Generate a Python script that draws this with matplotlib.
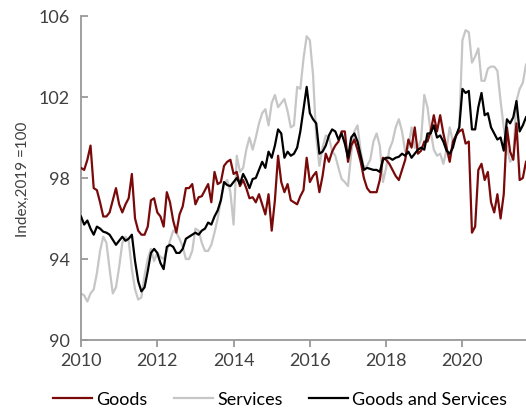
import numpy as np
import matplotlib
matplotlib.use("Agg")
import matplotlib.pyplot as plt

# monthly index values, Jan 2010 - Sep 2021 (2019 = 100)
start_year = 2010
goods = [
    98.5, 98.4, 98.9, 99.6, 97.5, 97.4, 96.8, 96.1, 96.1, 96.3, 96.9, 97.5,
    96.7, 96.3, 96.7, 97.0, 98.2, 96.0, 95.4, 95.2, 95.2, 95.6, 96.9, 97.0,
    96.3, 96.1, 95.6, 97.3, 96.8, 95.9, 95.3, 96.2, 96.6, 97.5, 97.5, 97.7,
    96.7, 97.05, 97.1, 97.4, 97.7, 96.8, 98.3, 97.7, 97.8, 98.6, 98.8, 98.9,
    98.2, 98.3, 97.6, 97.9, 97.5, 97.0, 97.05, 96.8, 97.2, 96.7, 96.2, 97.2,
    95.4, 96.9, 99.1, 97.8, 97.3, 97.7, 96.9, 96.8, 96.7, 97.1, 97.4, 99.0,
    97.8, 98.1, 98.3, 97.3, 98.1, 99.2, 98.8, 99.3, 99.6, 99.8, 100.3, 100.3,
    98.8, 99.6, 99.9, 99.4, 98.8, 98.0, 97.5, 97.3, 97.3, 97.3, 97.9, 99.0,
    98.9, 98.7, 98.4, 98.1, 97.9, 98.4, 98.9, 99.9, 99.5, 100.5, 99.2, 99.35,
    99.8, 99.8, 100.3, 101.1, 100.3, 101.1, 100.2, 99.5, 98.8, 99.8, 100.1, 100.3,
    100.4, 99.7, 99.8, 95.3, 95.6, 98.4, 98.7, 97.9, 98.3, 96.8, 96.3, 97.2,
    96.0, 97.2, 100.5, 99.3, 98.9, 100.7, 97.9, 98.0, 98.8,
]
services = [
    92.3, 92.2, 91.9, 92.3, 92.5, 93.3, 94.4, 95.1, 94.8, 93.5, 92.3, 92.6,
    93.6, 94.8, 95.1, 94.9, 93.5, 92.5, 92.0, 92.1, 93.2, 94.0, 94.5, 93.9,
    94.3, 94.1, 94.0, 94.4, 94.9, 95.4, 95.3, 95.0, 94.6, 94.0, 94.0, 94.4,
    95.5, 95.4, 94.8, 94.4, 94.4, 94.7, 95.3, 96.0, 96.9, 97.7, 97.9, 97.3,
    95.7, 99.1, 98.3, 98.5, 99.4, 100.0, 99.4, 100.0, 100.7, 101.2, 101.4, 100.6,
    101.7, 102.1, 101.5, 101.7, 101.9, 101.3, 100.5, 100.6, 102.5, 102.4, 103.9, 105.0,
    104.8, 103.1, 100.0, 98.6, 99.5, 100.1, 100.0, 99.35, 99.1, 98.5, 97.95, 97.8,
    97.6, 99.2, 100.3, 100.6, 99.3, 98.5, 98.6, 98.9, 99.8, 100.2, 99.6, 97.8,
    98.5, 99.4, 99.8, 100.5, 100.9, 100.3, 99.3, 99.5, 100.5, 99.5, 99.5, 99.9,
    102.1, 101.5, 100.3, 99.4, 99.1, 99.2, 98.7, 99.4, 100.5, 99.8, 100.0, 100.5,
    104.8, 105.3, 105.2, 103.7, 104.0, 104.4, 102.8, 102.8, 103.4, 103.5, 103.5, 103.3,
    101.8, 100.5, 99.5, 98.8, 99.0, 101.8, 102.4, 102.7, 103.6,
]
goods_services = [
    96.1, 95.7, 95.9, 95.5, 95.2, 95.6, 95.5, 95.35, 95.3, 95.2, 94.95, 94.7,
    94.9, 95.1, 94.9, 95.0, 95.2, 93.9, 92.9, 92.4, 92.6, 93.4, 94.3, 94.5,
    94.3, 93.8, 93.5, 94.6, 94.7, 94.6, 94.3, 94.3, 94.5, 95.0, 95.1, 95.2,
    95.3, 95.2, 95.4, 95.5, 95.8, 95.7, 96.1, 96.4, 96.9, 97.8, 97.65, 97.6,
    97.8, 98.0, 97.7, 98.2, 97.9, 97.5, 97.95, 98.0, 98.4, 98.8, 98.5, 99.3,
    99.0, 99.6, 100.4, 100.2, 99.0, 99.3, 99.1, 99.2, 99.5, 100.3, 101.4, 102.5,
    101.2, 100.9, 100.7, 99.2, 99.3, 99.6, 100.1, 100.4, 100.3, 99.9, 100.2, 99.7,
    99.0, 100.0, 100.2, 99.8, 99.1, 98.4, 98.5, 98.45, 98.4, 98.4, 98.3, 98.9,
    99.0, 99.0, 98.9, 99.0, 99.05, 99.2, 99.1, 99.3, 99.0, 99.2, 99.4, 99.5,
    99.4, 100.2, 100.2, 100.6, 100.0, 100.1, 99.8, 99.35, 99.2, 99.5, 100.1, 100.5,
    102.4, 102.2, 102.3, 100.4, 100.4, 101.5, 102.2, 101.1, 101.2, 100.5, 100.2, 99.9,
    100.0, 99.35, 100.9, 100.7, 101.0, 101.8, 100.3, 100.6, 101.0,
]
series_names = ["Goods", "Services", "Goods and Services"]
x_ticks = [2010, 2012, 2014, 2016, 2018, 2020]
y_ticks = [90, 94, 98, 102, 106]

plt.rcParams['font.family'] = ['Lato', 'DejaVu Sans']

dates = start_year + np.arange(len(goods)) / 12.0

fig = plt.figure(figsize=(5.26, 4.10), dpi=100)
ax = fig.add_axes([81 / 526, 1 - 341 / 410, 1 - 81 / 526, (341 - 17) / 410])

ax.plot(dates, services, color='#c6c6c6', lw=1.6, label=series_names[1], zorder=2)
ax.plot(dates, goods, color='#7a0a0a', lw=1.6, label=series_names[0], zorder=3)
ax.plot(dates, goods_services, color='black', lw=1.6, label=series_names[2], zorder=4)

ax.set_xlim(2010, 2010 + 140 / 12.0)
ax.set_ylim(90, 106)
ax.set_xticks(x_ticks)
ax.set_yticks(y_ticks)
ax.set_ylabel('Index,2019 =100', fontsize=11, color='#404040', labelpad=6)

for side in ['top', 'right']:
    ax.spines[side].set_visible(False)
for side in ['left', 'bottom']:
    ax.spines[side].set_color('#999999')
    ax.spines[side].set_linewidth(1.3)
ax.tick_params(colors='#999999', labelcolor='#404040', labelsize=13, width=1.3)
ax.tick_params(axis='x', direction='out', length=5)
ax.tick_params(axis='y', direction='in', length=5, pad=8)

handles, labels = ax.get_legend_handles_labels()
order = [1, 0, 2]
fig.legend([handles[k] for k in order], [labels[k] for k in order],
           loc='center', bbox_to_anchor=(280 / 526, 1 - 400 / 410), ncol=3, frameon=False,
           fontsize=13, handlelength=2.15, columnspacing=1.45, handletextpad=0.25)

fig.savefig('out.png', dpi=100)
